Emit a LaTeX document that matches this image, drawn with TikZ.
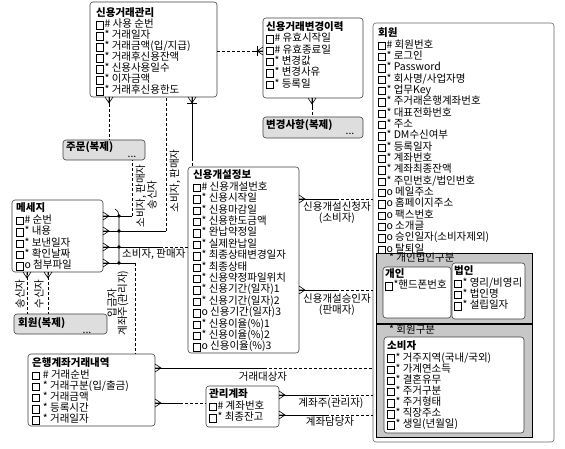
\documentclass[tikz,border=0pt]{standalone}
\usepackage{fontspec}
\newfontfamily\kr{Noto Sans CJK KR}
\usetikzlibrary{calc}
\newcommand\sq{\raisebox{-0.9pt}{\setlength\fboxsep{0pt}\setlength\fboxrule{0.45pt}\fbox{\rule{0pt}{7pt}\rule{6.6pt}{0pt}}}\kern0.8pt}
\newcommand\stt{\rule{0pt}{8pt}}
\newcommand\fs{10.5}
\tikzset{
  ent/.style={draw=black!75, line width=0.6pt, rounded corners=3pt, fill=white, inner sep=0pt, outer sep=0pt, anchor=north west},
  dup/.style={ent, fill=black!13},
  grp/.style={draw=black, line width=0.7pt, fill=black!22, inner sep=0pt, outer sep=0pt, anchor=north west},
  txt/.style={inner sep=0pt, anchor=north west, align=left, font=\kr\fontsize{\fs}{11.3}\selectfont},
  lbl/.style={inner sep=0pt, font=\kr\fontsize{\fs}{11.3}\selectfont},
  rel/.style={line width=0.6pt},
  opt/.style={line width=0.6pt, dash pattern=on 3pt off 2pt},
  crowE/.pic={\draw[rel] (0,-4) -- (6,0) -- (0,4) (0,0) -- (6,0);},
  crowS/.pic={\draw[rel] (-4,0) -- (0,6) -- (4,0) (0,0) -- (0,6);},
  crowW/.pic={\draw[rel] (0,-4) -- (-6,0) -- (0,4) (0,0) -- (-6,0);},
}
\begin{document}
\begin{tikzpicture}[x=1pt,y=-1pt]
\useasboundingbox[fill=white] (0,0) rectangle (565,449);

% ---------- entities ----------
\node[ent, minimum width=127pt, minimum height=95pt] (kwan) at (90,2) {};
\node[txt, font=\kr\fontsize{\fs}{11}\selectfont] (kwan-t) at (96,7.8) {\stt\textbf{신용거래관리}\\\sq\# 사용 순번\\\sq* 거래일자\\\sq* 거래금액(입/지급)\\\sq* 거래후신용잔액\\\sq* 신용사용일수\\\sq* 이자금액\\\sq* 거래후신용한도};

\node[ent, minimum width=100pt, minimum height=80pt] (byun) at (263,18) {};
\node[txt] (byun-t) at (266,21.5) {\stt\textbf{신용거래변경이력}\\\sq\# 유효시작일\\\sq\# 유효종료일\\\sq* 변경값\\\sq* 변경사유\\\sq* 등록일};

\node[dup, minimum width=100pt, minimum height=21pt] (bdup) at (263,117) {};
\node[lbl, anchor=west] (bdup-t) at (266,125) {\textbf{변경사항(복제)}};
\node[lbl, anchor=base] (bdup-d) at (350,135) {...};

\node[dup, minimum width=82pt, minimum height=20pt] (jdup) at (63,140) {};
\node[lbl, anchor=west] (jdup-t) at (66,147.5) {\textbf{주문(복제)}};
\node[lbl, anchor=base] (jdup-d) at (132,158) {...};

\node[ent, draw=black!60, minimum width=181pt, minimum height=419pt] (hoe) at (373,23) {};
\node[txt, font=\kr\fontsize{\fs}{11.33}\selectfont] (hoe-t) at (378,27.8) {\stt\textbf{회원}\\\sq\# 회원번호\\\sq* 로그인\\\sq* Password\\\sq* 회사명/사업자명\\\sq* 업무Key\\\sq* 주거래은행계좌번호\\\sq* 대표전화번호\\\sq* 주소\\\sq* DM수신여부\\\sq* 등록일자\\\sq* 계좌번호\\\sq* 계좌최종잔액\\\sq* 주민번호/법인번호\\\sq o 메일주소\\\sq o 홈페이지주소\\\sq o 팩스번호\\\sq o 소개글\\\sq o 승인일자(소비자제외)\\\sq o 탈퇴일};

\node[grp, minimum width=156pt, minimum height=70pt] (grp1) at (376,253) {};
\node[lbl, anchor=west] (grp1-t) at (389,257.5) {* 개인법인구분};
\node[ent, minimum width=68pt, minimum height=51pt] (gaein) at (383,267) {};
\node[txt, font=\kr\fontsize{\fs}{11}\selectfont] (gaein-t) at (385,268.8) {\stt\textbf{개인}\\\sq*핸드폰번호};
\node[ent, minimum width=73pt, minimum height=56pt] (bubin) at (452,263) {};
\node[txt] (bubin-t) at (454,265.8) {\stt\textbf{법인}\\\sq* 영리/비영리\\\sq* 법인명\\\sq* 설립일자};

\node[grp, minimum width=156pt, minimum height=113pt] (grp2) at (376,324) {};
\node[lbl, anchor=west] (grp2-t) at (389,330) {* 회원구분};
\node[ent, minimum width=140pt, minimum height=96pt] (sobi) at (384,337) {};
\node[txt, font=\kr\fontsize{\fs}{11.15}\selectfont] (sobi-t) at (387,340.8) {\stt\textbf{소비자}\\\sq* 거주지역(국내/국외)\\\sq* 가계연소득\\\sq* 결혼유무\\\sq* 주거구분\\\sq* 주거형태\\\sq* 직장주소\\\sq* 생일(년월일)};

\node[ent, minimum width=91pt, minimum height=72pt] (msg) at (12,200) {};
\node[txt, font=\kr\fontsize{\fs}{11.4}\selectfont] (msg-t) at (16,202.8) {\stt\textbf{메세지}\\\sq\# 순번\\\sq* 내용\\\sq* 보낸일자\\\sq* 확인날짜\\\sq o 첨부파일};

\node[dup, minimum width=93pt, minimum height=20pt] (hdup) at (14,314) {};
\node[lbl, anchor=west] (hdup-t) at (18,323) {\textbf{회원(복제)}};
\node[lbl, anchor=base] (hdup-d) at (87,333) {...};

\node[ent, minimum width=111pt, minimum height=186pt] (sin) at (188,167) {};
\node[txt, font=\kr\fontsize{\fs}{11.4}\selectfont] (sin-t) at (193,169.8) {\stt\textbf{신용개설정보}\\\sq\# 신용개설번호\\\sq* 신용시작일\\\sq* 신용마감일\\\sq* 신용한도금액\\\sq* 완납약정일\\\sq* 실제완납일\\\sq* 최종상태변경일자\\\sq* 최종상태\\\sq* 신용약정파일위치\\\sq* 신용기간(일자)1\\\sq* 신용기간(일자)2\\\sq o 신용기간(일자)3\\\sq* 신용이율(\%)1\\\sq* 신용이율(\%)2\\\sq o 신용이율(\%)3};

\node[ent, minimum width=127pt, minimum height=72pt] (bank) at (28,354) {};
\node[txt, font=\kr\fontsize{\fs}{11.2}\selectfont] (bank-t) at (32,357.8) {\stt\textbf{은행계좌거래내역}\\\sq~\# 거래순번\\\sq~* 거래구분(입/출금)\\\sq~* 거래금액\\\sq~* 등록시간\\\sq~* 거래일자};

\node[ent, minimum width=73pt, minimum height=41pt] (acct) at (206,386) {};
\node[txt, font=\kr\fontsize{\fs}{11.5}\selectfont] (acct-t) at (209,388.8) {\stt\textbf{관리계좌}\\\sq\# 계좌번호\\\sq* 최종잔고};

% ---------- relationships ----------
% R1 kwan - byun
\draw[opt] (kwan.east |- 0,51) -- (252,51);
\draw[rel] (252,51) -- (byun.west |- 0,51);
\draw[rel] (257,46) -- (257,56);
\pic at (byun.west |- 0,51) {crowW};
% R2 byun - bdup
\pic at (byun.south -| 312,0) {crowS};
\draw[rel] (byun.south -| 312,0) -- (312,107);
\draw[opt] (312,107) -- (bdup.north -| 312,0);
% R3 kwan - jdup
\pic at (kwan.south -| 109,0) {crowS};
\draw[rel] (kwan.south -| 109,0) -- (109,104);
\draw[opt] (109,104) -- (jdup.north -| 109,0);
% R4 kwan - sin
\pic at (kwan.south -| 192,0) {crowS};
\draw[rel] (kwan.south -| 192,0) -- (192,158);
\draw[rel] (187,103) -- (197,103);
\draw[opt] (192,158) -- (sin.north -| 192,0);
% R5 msg - jdup
\pic at (msg.east |- 0,216) {crowE};
\draw[rel] (msg.east |- 0,216) -- (132,216);
\draw[opt] (132,216) -- (jdup.south -| 132,0);
% R6 msg - kwan
\pic at (msg.east |- 0,231) {crowE};
\draw[rel] (msg.east |- 0,231) -- (166,231);
\draw[opt] (166,231) -- (kwan.south -| 166,0);
% R7 msg - sin
\pic at (msg.east |- 0,247) {crowE};
\draw[rel] (msg.east |- 0,247) -- (160,247);
\draw[opt] (160,247) -- (sin.west |- 0,247);
% R8 msg - bank
\pic at (msg.east |- 0,263) {crowE};
\draw[rel] (msg.east |- 0,263) -- (135,263);
\draw[opt] (135,263) -- (bank.north -| 135,0);
% exclusive arc
\draw[rel] (115,209) .. controls (118,211) and (119,213) .. (119,216) -- (119,263);
\foreach \yy in {216,231,247,263} \fill (119,\yy) circle (1.8pt);
% R9, R10 msg - hdup
\pic at (msg.south -| 27,0) {crowS};
\draw[opt] (msg.south -| 27,0) -- (hdup.north -| 27,0);
\pic at (msg.south -| 48,0) {crowS};
\draw[opt] (msg.south -| 48,0) -- (hdup.north -| 48,0);
% R11 bank - hoe
\pic at (bank.east |- 0,368) {crowE};
\draw[rel] (bank.east |- 0,368) -- (264,368);
\draw[opt] (264,368) -- (hoe.west |- 0,368);
% R12 bank - acct
\pic at (bank.east |- 0,403) {crowE};
\draw[rel] (bank.east |- 0,403) -- (180,403);
\draw[opt] (180,403) -- (acct.west |- 0,403);
% R13, R14 acct - hoe
\pic at (acct.east |- 0,395) {crowE};
\draw[rel] (acct.east |- 0,395) -- (326,395);
\draw[opt] (326,395) -- (hoe.west |- 0,395);
\pic at (acct.east |- 0,415) {crowE};
\draw[rel] (acct.east |- 0,415) -- (326,415);
\draw[opt] (326,415) -- (hoe.west |- 0,415);
% R15, R16 sin - hoe
\pic at (sin.east |- 0,199) {crowE};
\draw[rel] (sin.east |- 0,199) -- (336,199);
\draw[opt] (336,199) -- (hoe.west |- 0,199);
\pic at (sin.east |- 0,290) {crowE};
\draw[rel] (sin.east |- 0,290) -- (336,290);
\draw[opt] (336,290) -- (hoe.west |- 0,290);

% ---------- labels ----------
\node[lbl] (l-r11) at (263,377) {거래대상자};
\node[lbl] (l-r13) at (331,403) {계좌주(관리자)};
\node[lbl] (l-r14) at (330,422) {계좌담당자};
\node[lbl, align=center, font=\kr\fontsize{\fs}{11}\selectfont] (l-r15) at (337,212.5) {신용개설신청자\\(소비자)};
\node[lbl, align=center, font=\kr\fontsize{\fs}{11}\selectfont] (l-r16) at (337,304.5) {신용개설승인자\\(판매자)};
\node[lbl, anchor=west] (l-r7) at (122,254) {소비자, 판매자};
\node[lbl, rotate=90] (l-r9) at (20,294) {송신자};
\node[lbl, rotate=90] (l-r10) at (39,294) {수신자};
\node[lbl, rotate=90] (l-r6) at (175,181) {소비자, 판매자};
\node[lbl, rotate=90] (l-r5a) at (141,196) {소비자, 판매자};
\node[lbl, rotate=90] (l-r5b) at (152,195) {송신자};
\node[lbl, rotate=90] (l-r8a) at (112,303) {입금자};
\node[lbl, rotate=90] (l-r8b) at (123,303) {계좌주(관리자)};
\end{tikzpicture}
\end{document}
